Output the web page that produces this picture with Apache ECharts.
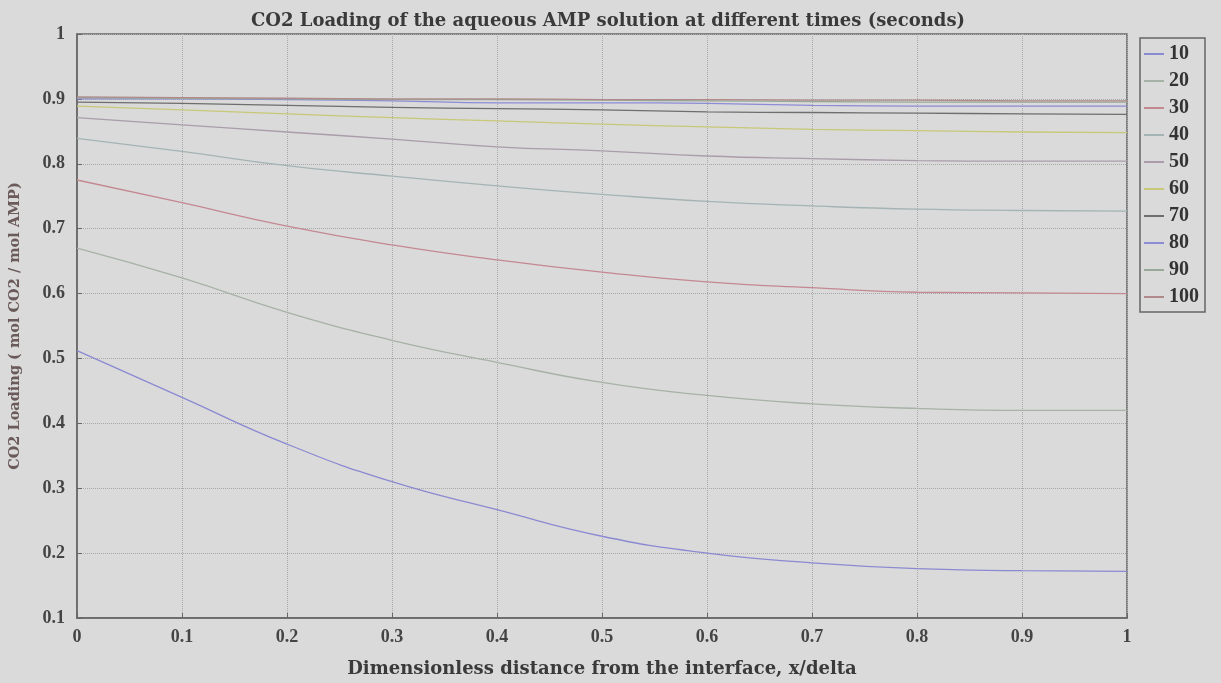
<!DOCTYPE html>
<html>
<head>
<meta charset="utf-8">
<script src="https://cdn.jsdelivr.net/npm/echarts@6/dist/echarts.min.js"></script>
<style>
  html, body { margin: 0; padding: 0; background: #dadada; }
  #myChart { width: 1221px; height: 683px; }
</style>
</head>
<body>
<div id="myChart"></div>
<script>
// x positions (x/delta)
var xs = [0, 0.1, 0.2, 0.3, 0.4, 0.5, 0.6, 0.7, 0.8, 0.9, 1];
// times in seconds (legend)
var times = ['10', '20', '30', '40', '50', '60', '70', '80', '90', '100'];

// CO2 loading, one array per time
var t10  = [0.512, 0.440, 0.368, 0.310, 0.267, 0.226, 0.200, 0.185, 0.176, 0.173, 0.172];
var t20  = [0.670, 0.624, 0.571, 0.528, 0.494, 0.463, 0.443, 0.430, 0.423, 0.420, 0.420];
var t30  = [0.775, 0.740, 0.704, 0.675, 0.652, 0.633, 0.618, 0.609, 0.602, 0.601, 0.600];
var t40  = [0.839, 0.819, 0.797, 0.781, 0.766, 0.753, 0.742, 0.735, 0.730, 0.728, 0.727];
var t50  = [0.871, 0.860, 0.849, 0.838, 0.826, 0.820, 0.812, 0.808, 0.805, 0.804, 0.804];
var t60  = [0.889, 0.883, 0.877, 0.871, 0.866, 0.861, 0.857, 0.853, 0.851, 0.849, 0.848];
var t70  = [0.895, 0.893, 0.890, 0.887, 0.885, 0.883, 0.880, 0.879, 0.878, 0.877, 0.876];
var t80  = [0.900, 0.900, 0.899, 0.897, 0.894, 0.894, 0.893, 0.890, 0.889, 0.889, 0.889];
var t90  = [0.902, 0.901, 0.900, 0.899, 0.899, 0.898, 0.897, 0.896, 0.895, 0.895, 0.895];
var t100 = [0.903, 0.902, 0.901, 0.900, 0.900, 0.899, 0.899, 0.898, 0.898, 0.897, 0.897];

var curves = [t10, t20, t30, t40, t50, t60, t70, t80, t90, t100];
var colors = ['#8a8ad2', '#a6b2a6', '#c48890', '#a4b4b4', '#aa9caa',
              '#c8c878', '#6e6e6e', '#8c8cd6', '#98a898', '#b08a8a'];

var font = 'Liberation Serif, Times New Roman, serif';
var wideFont = 'DejaVu Serif, serif';

function drawLine() {
  var myChart = echarts.init(document.getElementById('myChart'));
  var series = [];
  for (var i = 0; i < curves.length; i++) {
    var pts = [];
    for (var j = 0; j < xs.length; j++) {
      pts.push([xs[j], curves[i][j]]);
    }
    series.push({
      name: times[i],
      type: 'line',
      smooth: true,
      symbol: 'none',
      lineStyle: { width: 1.3, color: colors[i] },
      itemStyle: { color: colors[i] },
      data: pts
    });
  }

  var option = {
    backgroundColor: '#dadada',
    animation: false,
    title: {
      text: 'CO2 Loading of the aqueous AMP solution at different times (seconds)',
      left: 603,
      textAlign: 'center',
      top: 7,
      textStyle: { fontFamily: wideFont, fontWeight: 'bold', fontSize: 18, color: '#3a3a3a' }
    },
    legend: {
      data: times,
      orient: 'vertical',
      left: 1140,
      top: 38,
      width: 75,
      padding: [6, 6, 5, 4],
      itemGap: 7,
      itemWidth: 20,
      itemHeight: 2,
      icon: 'rect',
      borderColor: '#666',
      borderWidth: 1.5,
      backgroundColor: '#dadada',
      textStyle: { fontFamily: font, fontWeight: 'bold', fontSize: 20, color: '#333', lineHeight: 19 }
    },
    grid: {
      left: 74,
      right: 94,
      top: 34,
      bottom: 65,
      show: true,
      borderColor: '#666',
      borderWidth: 1.5,
      backgroundColor: '#dadada'
    },
    xAxis: {
      type: 'value',
      min: 0,
      max: 1,
      interval: 0.1,
      name: 'Dimensionless distance from the interface, x/delta',
      nameLocation: 'middle',
      nameGap: 42,
      nameTextStyle: { fontFamily: wideFont, fontWeight: 'bold', fontSize: 18, color: '#3a3a3a' },
      axisLine: { show: true, lineStyle: { color: '#666', width: 1.5 } },
      axisTick: { show: true, inside: true, length: 5, lineStyle: { color: '#666' } },
      axisLabel: { margin: 10, fontFamily: font, fontWeight: 'bold', fontSize: 18, color: '#444' },
      splitLine: { show: true, lineStyle: { type: 'dotted', color: '#a8a8a8', width: 1 } }
    },
    yAxis: {
      type: 'value',
      min: 0.1,
      max: 1,
      interval: 0.1,
      name: 'CO2 Loading ( mol CO2 / mol AMP)',
      nameLocation: 'middle',
      nameGap: 54,
      nameTextStyle: { fontFamily: wideFont, fontWeight: 'bold', fontSize: 14.5, color: '#6a5a5a' },
      axisLine: { show: true, lineStyle: { color: '#666', width: 1.5 } },
      axisTick: { show: true, inside: true, length: 5, lineStyle: { color: '#666' } },
      axisLabel: { margin: 12, fontFamily: font, fontWeight: 'bold', fontSize: 18, color: '#444' },
      splitLine: { show: true, lineStyle: { type: 'dotted', color: '#a8a8a8', width: 1 } }
    },
    series: series
  };
  myChart.setOption(option);
}

drawLine();
</script>
</body>
</html>
